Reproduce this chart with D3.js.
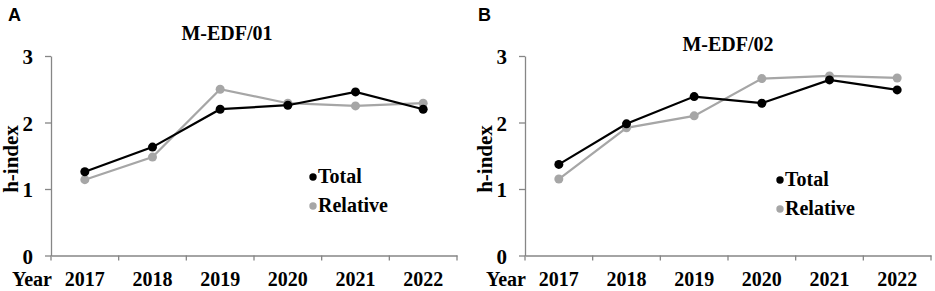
<!DOCTYPE html>
<html>
    <head>
        <meta charset="UTF-8"/>
        <style>
            body { margin: 0; background: #fff; }
            text { font-family: "Liberation Serif", "Times New Roman", serif; font-weight: bold; }
        </style>
    </head>
    <body>
        <script src="https://d3js.org/d3.v7.min.js" type="text/javascript"></script>
        <script>
            var years = ["2017", "2018", "2019", "2020", "2021", "2022"];
            var yTicks = [0, 1, 2, 3];
            var totalA = [1.26, 1.63, 2.20, 2.26, 2.46, 2.20];
            var relativeA = [1.14, 1.48, 2.50, 2.29, 2.25, 2.29];
            var totalB = [1.37, 1.98, 2.39, 2.29, 2.64, 2.49];
            var relativeB = [1.15, 1.92, 2.10, 2.66, 2.70, 2.67];

            let width = 935;
            let height = 291;
            let svg = d3.select("body")
                .append("svg")
                .attr("width", width)
                .attr("height", height);

            let yScale = d3.scaleLinear()
                .domain([0, 3])
                .range([255.5, 56]);

            function styleText(sel, size) {
                sel.attr("fill", "#000")
                    .style("font-size", size + "px")
                    .style("font-family", "'Liberation Serif', serif")
                    .style("font-weight", "bold");
            }

            function drawPanel(letter, letterX, title, titleX, titleY, left, right, total, relative, legX, legY) {
                let g = svg.append("g");
                let xScale = d3.scaleBand()
                    .domain(years)
                    .range([left, right]);

                g.append("text")
                    .attr("x", letterX)
                    .attr("y", 21)
                    .style("font-family", "'Liberation Sans', Arial, sans-serif")
                    .style("font-size", "18px")
                    .text(letter);

                g.append("text")
                    .attr("x", titleX)
                    .attr("y", titleY)
                    .attr("text-anchor", "middle")
                    .style("font-size", "20px")
                    .text(title);

                // y axis
                let gy = g.append("g")
                    .attr("transform", "translate(" + left + ",0)")
                    .call(d3.axisLeft(yScale).tickValues(yTicks).tickFormat(d3.format("d"))
                        .tickSize(6).tickSizeOuter(0).tickPadding(12));
                gy.select(".domain").attr("stroke", "#868686").attr("stroke-width", 1.3);
                gy.selectAll(".tick line").attr("stroke", "#868686").attr("stroke-width", 1.3);
                styleText(gy.selectAll(".tick text").attr("dy", "0.36em"), 21);

                // x axis: labels at band centres, ticks on band boundaries
                let gx = g.append("g")
                    .attr("transform", "translate(0," + yScale(0) + ")")
                    .call(d3.axisBottom(xScale).tickSize(0).tickSizeOuter(0));
                gx.select(".domain").attr("stroke", "#868686").attr("stroke-width", 1.3);
                styleText(gx.selectAll(".tick text").attr("y", 30).attr("dy", 0), 20);
                let bounds = years.map(function(d) { return xScale(d); }).concat([right]);
                gx.selectAll(".bound")
                    .data(bounds)
                    .enter()
                    .append("line")
                    .attr("x1", function(d) { return d; })
                    .attr("x2", function(d) { return d; })
                    .attr("y1", 0)
                    .attr("y2", 5)
                    .attr("stroke", "#868686")
                    .attr("stroke-width", 1.3);

                g.append("text")
                    .attr("x", left - 39)
                    .attr("y", yScale(0) + 30)
                    .style("font-size", "20px")
                    .text("Year");

                g.append("text")
                    .attr("transform", "translate(" + (left - 33) + "," + 159 + ") rotate(-90)")
                    .attr("text-anchor", "middle")
                    .style("font-size", "21px")
                    .text("h-index");

                let line = d3.line()
                    .x(function(d, i) { return xScale(years[i]) + xScale.bandwidth() / 2; })
                    .y(function(d) { return yScale(d); });

                let series = [
                    { name: "Total", values: total, color: "#000000" },
                    { name: "Relative", values: relative, color: "#a6a6a6" }
                ];
                [series[1], series[0]].forEach(function(s) {
                    g.append("path")
                        .datum(s.values)
                        .attr("fill", "none")
                        .attr("stroke", s.color)
                        .attr("stroke-width", 2.2)
                        .attr("d", line);
                    g.selectAll(null)
                        .data(s.values)
                        .enter()
                        .append("circle")
                        .attr("cx", function(d, i) { return xScale(years[i]) + xScale.bandwidth() / 2; })
                        .attr("cy", function(d) { return yScale(d); })
                        .attr("r", 4.5)
                        .attr("fill", s.color);
                });

                series.forEach(function(s, i) {
                    g.append("circle")
                        .attr("cx", legX)
                        .attr("cy", legY + i * 29)
                        .attr("r", 3.7)
                        .attr("fill", s.color);
                    g.append("text")
                        .attr("x", legX + 5)
                        .attr("y", legY + i * 29 + 6)
                        .style("font-size", "20px")
                        .text(s.name);
                });
            }

            drawPanel("A", 8, "M-EDF/01", 227, 40, 51, 457, totalA, relativeA, 313, 177);
            drawPanel("B", 478, "M-EDF/02", 728, 51, 525, 931, totalB, relativeB, 780, 180);
        </script>
    </body>
</html>
